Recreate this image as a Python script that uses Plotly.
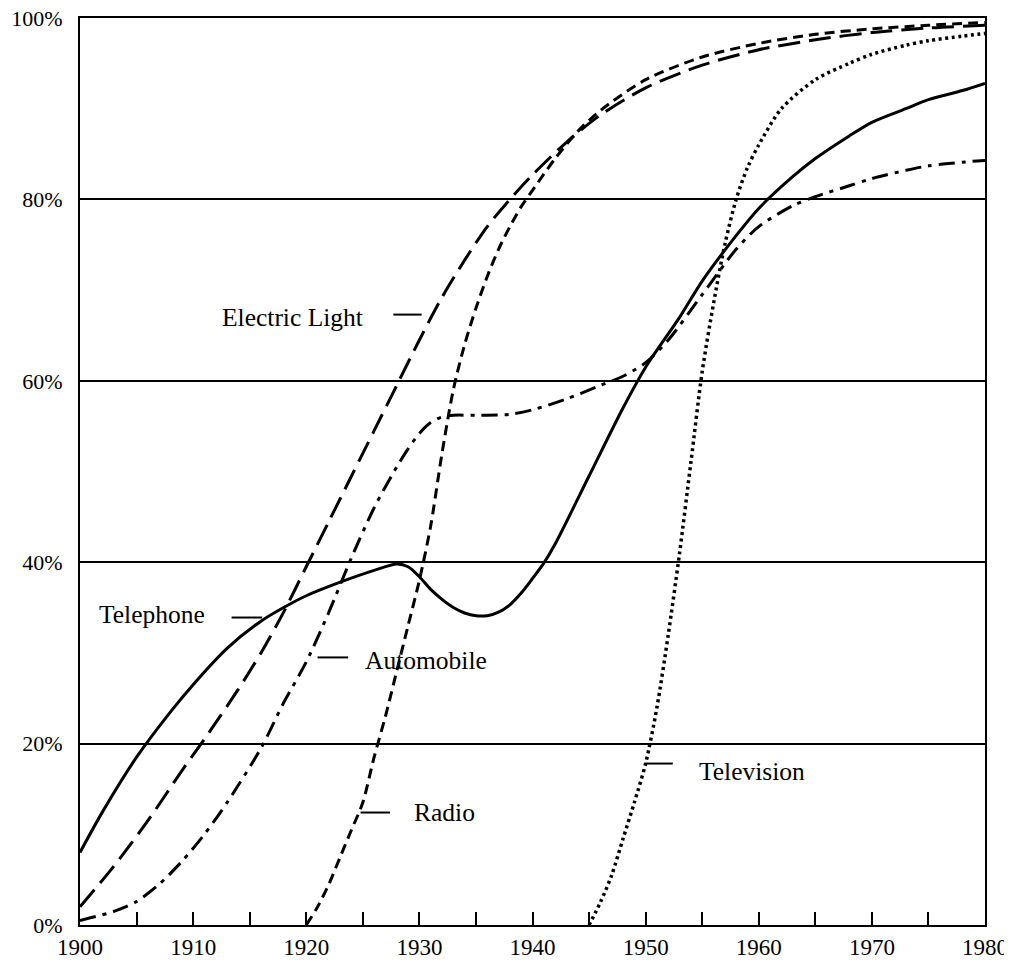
import plotly.graph_objects as go

# ---- data ----
tel_years = [1900, 1902, 1905, 1908, 1910, 1913, 1916, 1918, 1920, 1923, 1926, 1928,
             1929, 1930, 1931, 1932, 1933, 1934, 1935, 1936, 1937, 1938, 1939, 1940, 1941,
             1942, 1945, 1948, 1950, 1953, 1955, 1958, 1960, 1963, 1965, 1968, 1970, 1973,
             1975, 1978, 1980]
tel_vals = [8, 12.5, 18.5, 23.5, 26.5, 30.5, 33.5, 35, 36.3, 37.8, 39.1, 39.8,
            39.5, 38.4, 37.0, 35.9, 35, 34.4, 34.1, 34.1, 34.5, 35.3, 36.6, 38.2, 39.9,
            42, 49.5, 57, 61.5, 67, 71, 76, 79, 82.5, 84.5, 87, 88.5, 90,
            91, 92, 92.8]

elec_years = [1900, 1903, 1906, 1909, 1911, 1914, 1916, 1918, 1920, 1922, 1924, 1926, 1928,
              1930, 1932, 1934, 1936, 1938, 1940, 1943, 1946, 1950, 1955, 1960, 1965, 1970,
              1975, 1980]
elec_vals = [2, 6.5, 11.5, 17, 20.5, 26, 30, 34.5, 39.5, 44.5, 49.5, 54.5, 59.5,
             64.5, 69.2, 73.3, 77, 80, 82.7, 86.3, 89.3, 92.3, 94.8, 96.5, 97.6, 98.4,
             98.9, 99.2]

radio_years = [1920, 1921, 1922, 1923, 1924, 1925, 1926, 1927, 1928, 1929, 1930, 1931, 1932,
               1933, 1934, 1935, 1936, 1937, 1938, 1939, 1940, 1942, 1944, 1946, 1950, 1955,
               1960, 1965, 1970, 1975, 1980]
radio_vals = [0, 2, 4.5, 7.5, 10.5, 13.5, 18.5, 23, 28, 33, 38, 44, 52,
              59, 64, 68, 71.5, 74.5, 77, 79.2, 81, 84.5, 87.5, 89.8, 93.2, 95.7,
              97.2, 98.2, 98.8, 99.2, 99.5]

auto_years = [1900, 1903, 1905, 1907, 1909, 1911, 1913, 1916, 1918, 1920, 1922, 1924, 1926,
              1928, 1929, 1930, 1931, 1932, 1933, 1935, 1938, 1940, 1943, 1946, 1948, 1950,
              1952, 1955, 1958, 1960, 1963, 1965, 1968, 1970, 1973, 1975, 1978, 1980]
auto_vals = [0.5, 1.5, 2.6, 4.5, 7, 10, 13.5, 19.5, 24.5, 29, 34.5, 40.5, 46,
             50.5, 52.5, 54.2, 55.4, 56, 56.2, 56.2, 56.3, 56.8, 58, 59.5, 60.5, 62,
             64.5, 69.5, 74.5, 77, 79.3, 80.3, 81.5, 82.3, 83.2, 83.7, 84.1, 84.3]

tv_years = [1945, 1946, 1947, 1948, 1949, 1950, 1951, 1952, 1953, 1954, 1955, 1956, 1957,
            1958, 1959, 1960, 1962, 1965, 1968, 1970, 1973, 1975, 1978, 1980]
tv_vals = [0, 2.5, 5.5, 9.5, 13.5, 17.8, 24, 32, 41, 51, 61, 68.5, 75,
           80, 83.5, 86, 90, 93.2, 95, 96, 97, 97.5, 98, 98.3]

x_ticks = [1900, 1910, 1920, 1930, 1940, 1950, 1960, 1970, 1980]
y_ticks = [0, 20, 40, 60, 80, 100]
y_labels = ["0%", "20%", "40%", "60%", "80%", "100%"]

# label positions: (text, text_x, text_y, leader_x0, leader_x1, leader_y)
labels = [
    ("Electric Light", 1918.8, 67.0, 1927.7, 1930.2, 67.3),
    ("Telephone", 1906.4, 34.2, 1913.4, 1916.1, 33.9),
    ("Automobile", 1930.6, 29.2, 1921.0, 1923.7, 29.5),
    ("Radio", 1932.2, 12.4, 1924.8, 1927.4, 12.4),
    ("Television", 1959.4, 16.9, 1949.9, 1952.4, 17.8),
]

FONT = "Liberation Serif, Times New Roman, serif"

fig = go.Figure()

def add(xs, ys, dash, width=3):
    fig.add_trace(go.Scatter(x=xs, y=ys, mode="lines",
                             line=dict(color="black", width=width, dash=dash,
                                       shape="spline", smoothing=0.8),
                             showlegend=False, hoverinfo="skip"))

add(tel_years, tel_vals, "solid")
add(elec_years, elec_vals, "22px,9px")
add(radio_years, radio_vals, "10px,6px")
add(auto_years, auto_vals, "16px,7px,4px,7px")
add(tv_years, tv_vals, "3px,3.5px", width=3.5)

for text, tx, ty, lx0, lx1, ly in labels:
    fig.add_annotation(x=tx, y=ty, text=text, showarrow=False,
                       font=dict(family=FONT, size=25.5, color="black"),
                       xanchor="center", yanchor="middle")
    fig.add_shape(type="line", x0=lx0, x1=lx1, y0=ly, y1=ly,
                  line=dict(color="black", width=2))

# page body has an 8px margin; size the figure so the page does not scroll
fig.update_layout(
    width=996, height=950,
    margin=dict(l=72, r=19, t=10, b=33, autoexpand=False),
    paper_bgcolor="white", plot_bgcolor="white",
    font=dict(family=FONT, size=20, color="black"),
)

fig.update_xaxes(range=[1900, 1980], tickvals=x_ticks, ticktext=[str(v) for v in x_ticks],
                 ticks="inside", ticklen=13, tickwidth=2, tickcolor="black",
                 minor=dict(dtick=5, tick0=1900, ticks="inside", ticklen=13,
                            tickwidth=2, tickcolor="black", showgrid=False),
                 showgrid=False, zeroline=False, automargin=False,
                 showline=True, linecolor="black", linewidth=2, mirror=True,
                 tickfont=dict(family=FONT, size=23), ticklabelstandoff=0,
                 ticklabeloverflow="allow")

fig.update_yaxes(range=[0, 100], tickvals=y_ticks, ticktext=y_labels,
                 ticks="", showgrid=True, gridcolor="black", gridwidth=1.5,
                 zeroline=False, showline=True, linecolor="black", linewidth=2,
                 mirror=True, automargin=False, tickfont=dict(family=FONT, size=22),
                 ticklabelstandoff=11, ticklabeloverflow="allow")

post = ("document.querySelectorAll('.main-svg').forEach(function(s){"
        "s.style.overflow='visible';});")

fig.write_html("out.html", post_script=post)
